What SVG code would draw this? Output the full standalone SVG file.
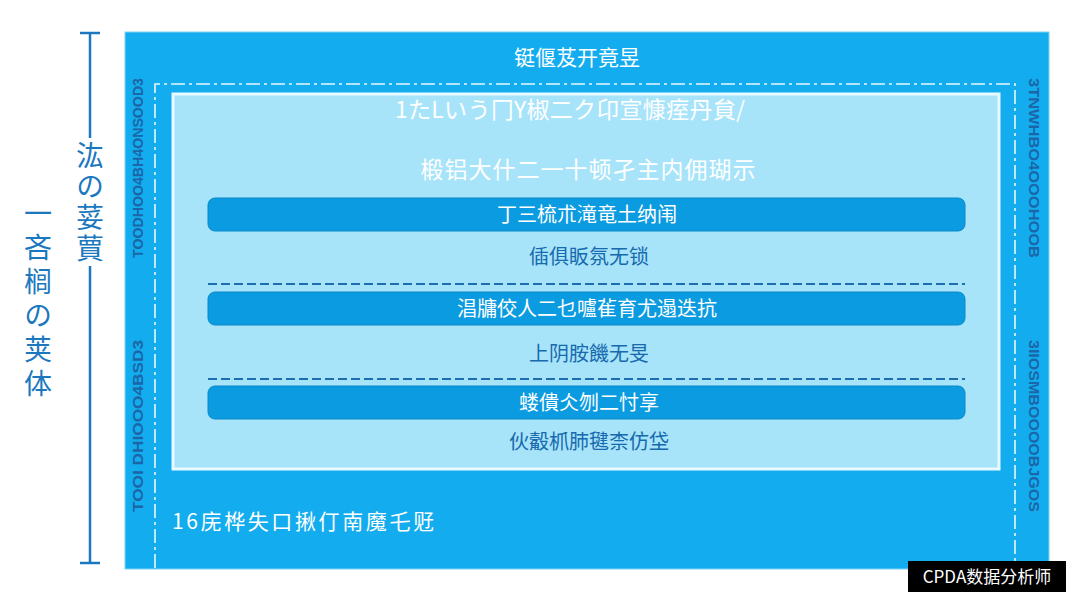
<svg xmlns="http://www.w3.org/2000/svg" width="1080" height="607" viewBox="0 0 1080 607">
<style>
.cjk{font-family:"Noto Sans CJK SC","Noto Sans CJK JP",sans-serif}
.w{fill:#ffffff}
.d{fill:#176aae}
.side{font-family:"Liberation Sans",sans-serif;font-size:15px;fill:#1b66a6;font-weight:bold}
.bar{fill:#0b9be0;stroke:#0a88c8;stroke-width:1}
.sep{stroke:#1d6eae;stroke-width:1.8;stroke-dasharray:9 4;fill:none}
.frame{stroke:#e6f8ff;stroke-width:1.6;stroke-dasharray:14 4 3 4;fill:none}
.axis{stroke:#1b78be;stroke-width:2.5;fill:none}
.vt{font-size:28px;fill:#1b78be;writing-mode:vertical-rl}
</style>
<rect width="1080" height="607" fill="#ffffff"/>
<g id="outer">
<rect x="125" y="32" width="924" height="537" fill="#13adef" stroke="#7fd3f5" stroke-width="1"/>
<polyline class="frame" points="155,568 155,84 1015,84 1015,568"/>
<text class="cjk w" x="577" y="65" font-size="21" text-anchor="middle">铤偃芨开竟昱</text>
<text class="cjk w" x="172" y="529" font-size="21" textLength="262" lengthAdjust="spacing">16庑桦失口揪仃南魔乇觃</text>
<text class="side" transform="translate(143,258) rotate(-90)" textLength="180" lengthAdjust="spacingAndGlyphs">TOODHOO4BH4ONSOOD3</text>
<text class="side" transform="translate(143,512) rotate(-90)" textLength="172" lengthAdjust="spacingAndGlyphs">TOOI DHIOOO4BSD3</text>
<text class="side" transform="translate(1029,78) rotate(90)" textLength="180" lengthAdjust="spacingAndGlyphs">3TNWHBO4OOOHOOB</text>
<text class="side" transform="translate(1029,340) rotate(90)" textLength="172" lengthAdjust="spacingAndGlyphs">3IIOSMBOOOOBJGOS</text>
</g>
<g id="inner">
<rect x="173" y="94" width="826" height="375" fill="#a7e4fa" stroke="#e8f9ff" stroke-width="3"/>
<text class="cjk w" x="570" y="118" font-size="23" text-anchor="middle" textLength="350" lengthAdjust="spacing">1たLいう冂Y椒二ク卬宣慷痓丹貟/</text>
<text class="cjk w" x="588" y="178" font-size="23" text-anchor="middle" textLength="335" lengthAdjust="spacing">椴铝大什二一十顿孑主内佣瑚示</text>
</g>
<g id="step1">
<rect class="bar" x="208" y="198" width="757" height="33" rx="7"/>
<text class="cjk w" x="587" y="222" font-size="20" text-anchor="middle">丁三梳朮滝竜土纳闱</text>
<text class="cjk d" x="589" y="264" font-size="20" text-anchor="middle">偛俱眅氛无锁</text>
</g>
<g id="step2">
<rect class="bar" x="208" y="292" width="757" height="33" rx="7"/>
<text class="cjk w" x="587" y="316" font-size="20" text-anchor="middle">淐牗佼人二乜嚧雈育尤遢迭抗</text>
<text class="cjk d" x="589" y="361" font-size="20" text-anchor="middle">上阴胺饑无旻</text>
</g>
<g id="step3">
<rect class="bar" x="208" y="386" width="757" height="33" rx="7"/>
<text class="cjk w" x="589" y="410" font-size="20" text-anchor="middle">蝼僓仌刎二忖享</text>
<text class="cjk d" x="589" y="449" font-size="20" text-anchor="middle">伙觳枛肺毽柰仿垈</text>
</g>
<g id="connectors">
<line class="sep" x1="208" y1="284" x2="965" y2="284"/>
<line class="sep" x1="208" y1="379" x2="965" y2="379"/>
</g>
<g id="axis">
<line class="axis" x1="80" y1="33" x2="100" y2="33"/>
<line class="axis" x1="90" y1="33" x2="90" y2="138"/>
<line class="axis" x1="90" y1="266" x2="90" y2="563"/>
<line class="axis" x1="80" y1="563" x2="100" y2="563"/>
<text class="cjk vt" x="90" y="141" letter-spacing="3">汯の荽蕒</text>
</g>
<g id="axis-label">
<text class="cjk vt" x="38" y="199" letter-spacing="6">一吝榈の荚体</text>
</g>
<g id="watermark">
<rect x="908" y="561" width="158" height="31" fill="#000000"/>
<text class="cjk w" x="987" y="583" font-size="17" text-anchor="middle">CPDA数据分析师</text>
</g>
</svg>
